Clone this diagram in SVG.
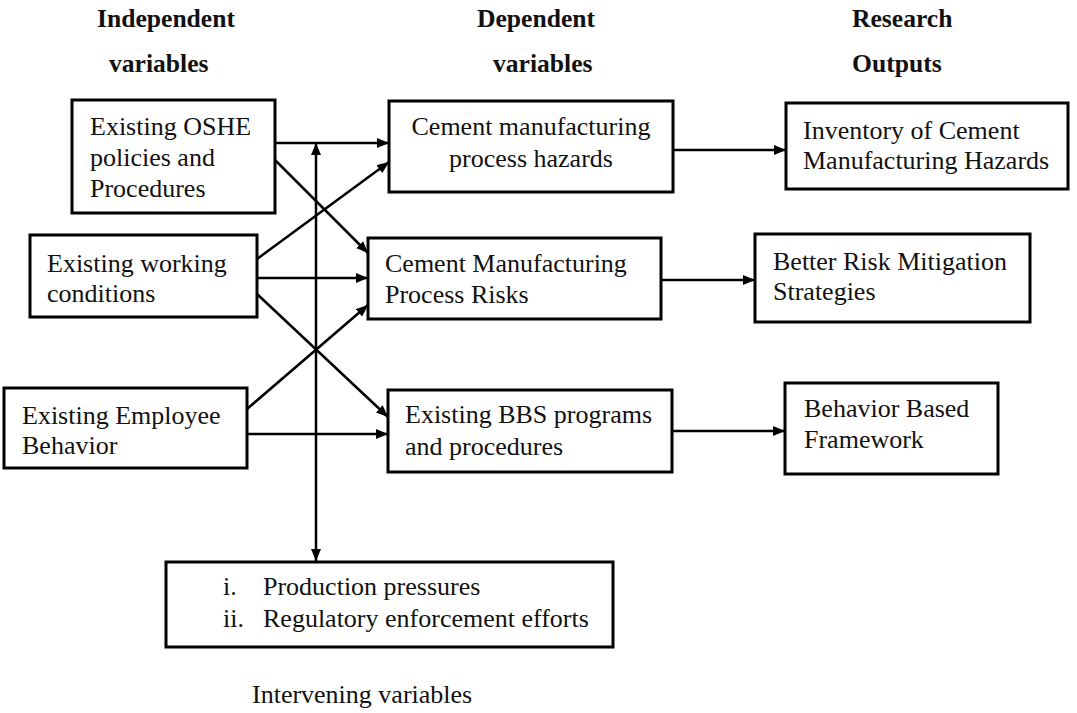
<svg xmlns="http://www.w3.org/2000/svg" width="1077" height="713" viewBox="0 0 1077 713">
<style>
  .box { fill: #fff; stroke: #000; stroke-width: 3; }
  .t { font-family: "Liberation Serif", "DejaVu Serif", serif; font-weight: normal; font-size: 26px; fill: #111; }
  .h { font-family: "Liberation Serif", "DejaVu Serif", serif; font-size: 25.6px; font-weight: bold; fill: #111; }
  .c { fill: none; stroke: #000; stroke-width: 2.5; marker-end: url(#ah); }
</style>
<defs>
  <marker id="ah" markerUnits="userSpaceOnUse" markerWidth="12" markerHeight="10" refX="12" refY="5" orient="auto">
    <path d="M0,0 L12,5 L0,10 z" fill="#000"/>
  </marker>
  <marker id="ahs" markerUnits="userSpaceOnUse" markerWidth="12" markerHeight="10" refX="12" refY="5" orient="auto-start-reverse">
    <path d="M0,0 L12,5 L0,10 z" fill="#000"/>
  </marker>
</defs>
<rect width="1077" height="713" fill="#fff"/>

<g id="headers">
  <text class="h" x="97" y="27">Independent</text>
  <text class="h" x="109" y="72">variables</text>
  <text class="h" x="477" y="27">Dependent</text>
  <text class="h" x="493" y="72">variables</text>
  <text class="h" x="852" y="27">Research</text>
  <text class="h" x="852" y="72">Outputs</text>
</g>

<g id="connectors">
  <line class="c" x1="275" y1="143" x2="389" y2="143"/>
  <line class="c" x1="275" y1="160" x2="368" y2="253"/>
  <line class="c" x1="257" y1="259" x2="389" y2="162"/>
  <line class="c" x1="257" y1="278" x2="368" y2="278"/>
  <line class="c" x1="257" y1="294" x2="388" y2="417"/>
  <line class="c" x1="247" y1="409" x2="368" y2="305"/>
  <line class="c" x1="247" y1="434" x2="388" y2="434"/>
  <line class="c" x1="673" y1="150" x2="786" y2="150"/>
  <line class="c" x1="661" y1="280" x2="755" y2="280"/>
  <line class="c" x1="672" y1="431" x2="785" y2="431"/>
  <line x1="316" y1="143" x2="316" y2="561" stroke="#000" stroke-width="2.5" marker-start="url(#ahs)" marker-end="url(#ahs)"/>
</g>

<g id="n-oshe">
  <rect class="box" x="72" y="100" width="203" height="113"/>
  <text class="t" x="90" y="135">Existing OSHE</text>
  <text class="t" x="90" y="166">policies and</text>
  <text class="t" x="90" y="197">Procedures</text>
</g>
<g id="n-working">
  <rect class="box" x="30" y="235" width="227" height="82"/>
  <text class="t" x="47" y="272">Existing working</text>
  <text class="t" x="47" y="302">conditions</text>
</g>
<g id="n-employee">
  <rect class="box" x="4" y="388" width="243" height="80"/>
  <text class="t" x="22" y="424">Existing Employee</text>
  <text class="t" x="22" y="454">Behavior</text>
</g>
<g id="n-hazards">
  <rect class="box" x="389" y="101" width="284" height="91"/>
  <text class="t" x="531" y="135" text-anchor="middle">Cement manufacturing</text>
  <text class="t" x="531" y="167" text-anchor="middle">process hazards</text>
</g>
<g id="n-risks">
  <rect class="box" x="368" y="238" width="293" height="81"/>
  <text class="t" x="385" y="272">Cement Manufacturing</text>
  <text class="t" x="385" y="303">Process Risks</text>
</g>
<g id="n-bbs">
  <rect class="box" x="388" y="390" width="284" height="82"/>
  <text class="t" x="405" y="423">Existing BBS programs</text>
  <text class="t" x="405" y="455">and procedures</text>
</g>
<g id="n-inventory">
  <rect class="box" x="786" y="103" width="282" height="86"/>
  <text class="t" x="803" y="139">Inventory of Cement</text>
  <text class="t" x="803" y="169">Manufacturing Hazards</text>
</g>
<g id="n-mitigation">
  <rect class="box" x="755" y="234" width="275" height="88"/>
  <text class="t" x="773" y="270">Better Risk Mitigation</text>
  <text class="t" x="773" y="300">Strategies</text>
</g>
<g id="n-framework">
  <rect class="box" x="785" y="383" width="213" height="91"/>
  <text class="t" x="804" y="417">Behavior Based</text>
  <text class="t" x="804" y="448">Framework</text>
</g>
<g id="n-intervening">
  <rect class="box" x="166" y="562" width="447" height="85"/>
  <text class="t" x="223" y="595">i.</text>
  <text class="t" x="263" y="595">Production pressures</text>
  <text class="t" x="223" y="627">ii.</text>
  <text class="t" x="263" y="627">Regulatory enforcement efforts</text>
</g>
<text class="t" x="252" y="703">Intervening variables</text>
</svg>
